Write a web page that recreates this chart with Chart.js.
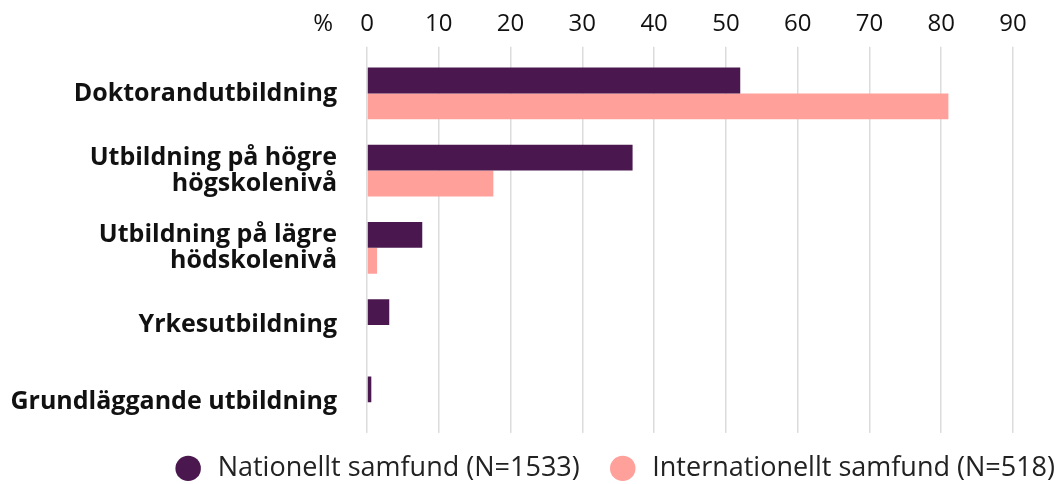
<!DOCTYPE html>
<html>
<head>
<meta charset="utf-8">
<script src="https://cdn.jsdelivr.net/npm/chart.js@4/dist/chart.umd.min.js"></script>
<style>
  html, body { margin: 0; padding: 0; background: #fff; }
  #wrap { width: 1059px; height: 484px; position: relative; }
</style>
</head>
<body>
<div id="wrap"><canvas id="chart"></canvas></div>
<script>
const categories = [
  'Doktorandutbildning',
  ['Utbildning på högre', 'högskolenivå'],
  ['Utbildning på lägre', 'hödskolenivå'],
  'Yrkesutbildning',
  'Grundläggande utbildning'
];
const nationellt = [52, 37, 7.7, 3.1, 0.6];
const internationellt = [81, 17.6, 1.4, 0, 0];
const seriesNames = ['Nationellt samfund (N=1533)', 'Internationellt samfund (N=518)'];
const seriesColors = ['#4a184e', '#ffa09b'];
const xTicks = [0, 10, 20, 30, 40, 50, 60, 70, 80, 90];

const FONT = "'Open Sans', 'Noto Sans', sans-serif";
const TICK_SIZE = 24;
const TICK_PAD = 8;
const TICK_LEN = 8;

// "%" left of the 0 tick, grid lines stop above the legend, legend sits lower
const extras = {
  id: 'extras',
  afterLayout(chart) {
    const lg = chart.legend;
    if (lg) {
      lg.top += 14;
      lg.bottom += 14;
    }
  },
  beforeDatasetsDraw(chart) {
    const a = chart.chartArea;
    const ctx = chart.ctx;
    ctx.save();
    ctx.fillStyle = '#fff';
    ctx.fillRect(a.left - 2, a.bottom - 8, a.right - a.left + 4, 10);
    ctx.restore();
  },
  afterDraw(chart) {
    const x = chart.scales.x;
    const ctx = chart.ctx;
    ctx.save();
    ctx.font = TICK_SIZE + 'px ' + FONT;
    ctx.fillStyle = '#111';
    ctx.textAlign = 'right';
    ctx.textBaseline = 'middle';
    const y = x.bottom - TICK_LEN - TICK_PAD - TICK_SIZE * 0.6;
    ctx.fillText('%', x.getPixelForValue(0) - 34, y);
    ctx.restore();
  }
};

new Chart(document.getElementById('chart'), {
  type: 'bar',
  data: {
    labels: categories,
    datasets: seriesNames.map((name, i) => ({
      label: name,
      data: i === 0 ? nationellt : internationellt,
      backgroundColor: seriesColors[i],
      borderWidth: 0
    }))
  },
  plugins: [extras],
  options: {
    indexAxis: 'y',
    responsive: true,
    maintainAspectRatio: false,
    animation: false,
    layout: {
      padding: { top: 2, right: 4, left: 10, bottom: 0 }
    },
    datasets: {
      bar: { barPercentage: 1, categoryPercentage: 0.67 }
    },
    scales: {
      x: {
        position: 'top',
        min: 0,
        max: 90,
        afterBuildTicks(scale) {
          scale.ticks = xTicks.map(v => ({ value: v }));
        },
        grid: {
          color: '#dcdcdc',
          lineWidth: 1.5,
          drawTicks: true,
          tickLength: TICK_LEN
        },
        border: { display: false },
        ticks: {
          font: { family: FONT, size: TICK_SIZE },
          color: '#111',
          padding: TICK_PAD
        }
      },
      y: {
        grid: { display: false, drawTicks: false },
        border: { display: false },
        ticks: {
          font: { family: FONT, size: 25, weight: 'bold', lineHeight: 1.05 },
          color: '#111',
          padding: 30
        },
        afterFit(scale) { scale.width = 357; }
      },
      // empty right axis, only keeps room on the right of the plot
      yRight: {
        type: 'category',
        position: 'right',
        grid: { display: false, drawTicks: false },
        border: { display: false },
        ticks: { display: false },
        afterFit(scale) { scale.width = 42; }
      }
    },
    plugins: {
      legend: {
        position: 'bottom',
        align: 'end',
        labels: {
          usePointStyle: true,
          pointStyle: 'circle',
          boxHeight: 18,
          boxWidth: 18,
          padding: 0,
          font: { family: FONT, size: 27, lineHeight: 1.0 },
          color: '#222',
          generateLabels(chart) {
            const items = Chart.defaults.plugins.legend.labels.generateLabels(chart);
            items.forEach((it, i) => {
              it.text = ' ' + it.text + (i < items.length - 1 ? '\u2003 ' : '');
            });
            return items;
          }
        }
      },
      tooltip: { enabled: false }
    }
  }
});
</script>
</body>
</html>
